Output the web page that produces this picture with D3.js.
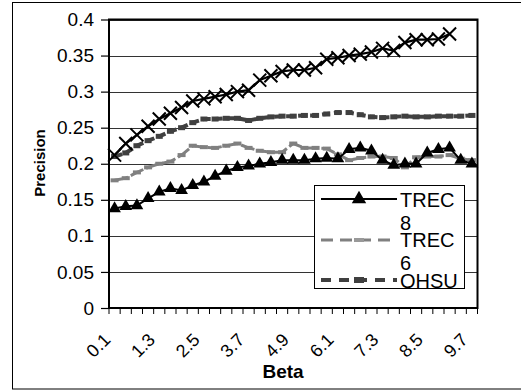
<!DOCTYPE html>
<html><head><meta charset="utf-8">
<script src="https://cdn.jsdelivr.net/npm/d3@7"></script>
<style>body{margin:0;background:#fff}svg{display:block;font-family:Arial,"Liberation Sans",sans-serif}</style>
</head><body>
<svg id="c" width="521" height="391"></svg>
<script>
const categories = ["0.1","0.4","0.7","1","1.3","1.6","1.9","2.2","2.5","2.8","3.1","3.4","3.7","4","4.3","4.6","4.9","5.2","5.5","5.8","6.1","6.4","6.7","7","7.3","7.6","7.9","8.2","8.5","8.8","9.1","9.4","9.7"];
const tickLabels = ["0.1","1.3","2.5","3.7","4.9","6.1","7.3","8.5","9.7"];
const yTicks = [0,0.05,0.1,0.15,0.2,0.25,0.3,0.35,0.4];
const seriesX = [0.212,0.228,0.240,0.252,0.262,0.270,0.278,0.287,0.290,0.293,0.296,0.300,0.302,0.316,0.322,0.328,0.330,0.330,0.333,0.345,0.347,0.350,0.352,0.355,0.360,0.357,0.368,0.372,0.372,0.373,0.380];
const ohsu = [0.210,0.215,0.225,0.232,0.238,0.245,0.250,0.257,0.262,0.262,0.263,0.263,0.260,0.263,0.265,0.266,0.266,0.267,0.267,0.269,0.271,0.271,0.268,0.265,0.264,0.265,0.266,0.265,0.265,0.266,0.266,0.266,0.267];
const trec6 = [0.177,0.180,0.188,0.195,0.200,0.203,0.212,0.225,0.223,0.222,0.225,0.228,0.222,0.218,0.216,0.216,0.228,0.222,0.222,0.221,0.213,0.205,0.208,0.210,0.210,0.208,0.195,0.209,0.210,0.210,0.212,0.207,0.205];
const trec8 = [0.138,0.141,0.142,0.152,0.161,0.166,0.163,0.170,0.175,0.183,0.190,0.195,0.197,0.200,0.202,0.205,0.205,0.205,0.207,0.208,0.207,0.220,0.222,0.218,0.205,0.198,0.200,0.200,0.215,0.220,0.222,0.205,0.200];
const legendLabels = [["TREC","8"],["TREC","6"],["OHSU"]];

const svg = d3.select("#c");
const L=109, R=477.5, T=19.5, B=308;
const x = d3.scaleBand().domain(categories).range([L,R]);
const cx = c => x(c) + x.bandwidth()/2;
const y = d3.scaleLinear().domain([0,0.4]).range([B,T]);

// outer border
svg.append("rect").attr("x",12.5).attr("y",2.5).attr("width",520).attr("height",386.5)
  .attr("fill","none").attr("stroke","#000").attr("stroke-width",1);

// gridlines
svg.append("g").selectAll("line").data(yTicks.slice(1)).join("line")
  .attr("x1",L).attr("x2",R).attr("y1",d=>Math.round(y(d))+0.5).attr("y2",d=>Math.round(y(d))+0.5)
  .attr("stroke","#333").attr("stroke-width",1);

// y axis
const yAxis = d3.axisLeft(y).tickValues(yTicks).tickFormat(d=>d3.format("")(d)).tickSize(8).tickPadding(7);
const gy = svg.append("g").attr("transform",`translate(${L},0)`).call(yAxis);
gy.select(".domain").remove();
gy.selectAll("line").attr("stroke","#000").attr("stroke-width",1.2);
gy.selectAll("text").attr("font-size",19).attr("fill","#000").attr("font-family","Arial, Liberation Sans, sans-serif");

// x axis ticks at boundaries
const bounds = categories.map(c=>x(c)).concat([R]);
svg.append("g").selectAll("line").data(bounds).join("line")
  .attr("x1",d=>d).attr("x2",d=>d).attr("y1",B).attr("y2",B+6)
  .attr("stroke","#000").attr("stroke-width",1);

// x labels
svg.append("g").selectAll("text").data(tickLabels).join("text")
  .attr("transform",d=>`translate(${cx(d)-12},${B+24}) rotate(-45)`)
  .attr("text-anchor","end").attr("dy","0.7em").attr("font-size",18).text(d=>d);

// plot border
svg.append("rect").attr("x",L).attr("y",T).attr("width",R-L).attr("height",B-T)
  .attr("fill","none").attr("stroke","#000").attr("stroke-width",2);

const line = d3.line().x((d,i)=>cx(categories[i])).y(d=>y(d));

// OHSU
svg.append("path").datum(ohsu).attr("d",line).attr("fill","none").attr("stroke","#404040")
  .attr("stroke-width",4).attr("stroke-dasharray","8,4");
svg.append("g").selectAll("rect").data(ohsu).join("rect")
  .attr("x",(d,i)=>cx(categories[i])-3.5).attr("y",d=>y(d)-2.5).attr("width",7).attr("height",5).attr("fill","#404040");

// TREC 6
svg.append("path").datum(trec6).attr("d",line).attr("fill","none").attr("stroke","#808080")
  .attr("stroke-width",3).attr("stroke-dasharray","14,3");
svg.append("g").selectAll("rect").data(trec6).join("rect")
  .attr("x",(d,i)=>cx(categories[i])-4).attr("y",d=>y(d)-2).attr("width",8).attr("height",4).attr("fill","#808080");

// TREC 8
svg.append("path").datum(trec8).attr("d",line).attr("fill","none").attr("stroke","#000").attr("stroke-width",2);
const tri = d3.symbol().type(d3.symbolTriangle).size(70);
svg.append("g").selectAll("path").data(trec8).join("path")
  .attr("d",tri).attr("transform",(d,i)=>`translate(${cx(categories[i])},${y(d)})`).attr("fill","#000");

// X series
svg.append("path").datum(seriesX).attr("d",line).attr("fill","none").attr("stroke","#000").attr("stroke-width",2.2);
svg.append("g").selectAll("path").data(seriesX).join("path")
  .attr("d","M-6.5,-6.5L6.5,6.5M-6.5,6.5L6.5,-6.5").attr("transform",(d,i)=>`translate(${cx(categories[i])},${y(d)})`)
  .attr("stroke","#000").attr("stroke-width",2).attr("fill","none");

// axis titles
svg.append("text").attr("transform","translate(45,163) rotate(-90)").attr("text-anchor","middle")
  .attr("font-weight","bold").attr("font-size",15).text("Precision");
svg.append("text").attr("x",283).attr("y",378).attr("text-anchor","middle")
  .attr("font-weight","bold").attr("font-size",19).text("Beta");

// legend
const lg = svg.append("g");
lg.append("rect").attr("x",314.5).attr("y",185.5).attr("width",150).attr("height",103)
  .attr("fill","#fff").attr("stroke","#000").attr("stroke-width",1);
const ly = [199,240,280], lb=[207,247,288];
const styles = [
  {stroke:"#000",w:2,dash:null},
  {stroke:"#808080",w:3,dash:"12,7"},
  {stroke:"#404040",w:4,dash:"10,8"}
];
legendLabels.forEach((lab,k)=>{
  lg.append("line").attr("x1",321).attr("x2",397).attr("y1",ly[k]).attr("y2",ly[k])
    .attr("stroke",styles[k].stroke).attr("stroke-width",styles[k].w).attr("stroke-dasharray",styles[k].dash);
  if(k===0){
    lg.append("path").attr("d",d3.symbol().type(d3.symbolTriangle).size(90)).attr("transform",`translate(359,${ly[k]})`).attr("fill","#000");
  } else if(k===1){
    lg.append("rect").attr("x",354).attr("y",ly[k]-2).attr("width",10).attr("height",4).attr("fill","#999");
  } else {
    lg.append("rect").attr("x",354).attr("y",ly[k]-3).attr("width",10).attr("height",6).attr("fill","#404040");
  }
  const t = lg.append("text").attr("x",400).attr("y",lb[k]).attr("font-size",20);
  lab.forEach((s,j)=>t.append("tspan").attr("x",400).attr("dy",j?23:0).text(s));
});
</script>
</body></html>
